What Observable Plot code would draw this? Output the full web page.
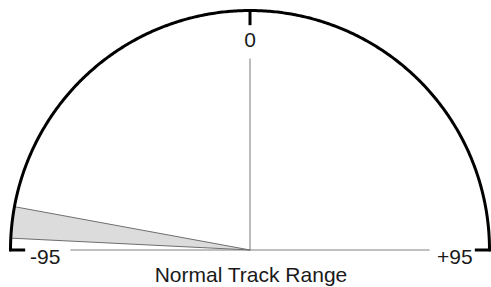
<!DOCTYPE html>
<html>
<head>
<meta charset="utf-8">
<script src="https://cdn.jsdelivr.net/npm/d3@7"></script>
<script src="https://cdn.jsdelivr.net/npm/@observablehq/plot@0.6"></script>
<style>
  html, body { margin: 0; padding: 0; background: #fff; }
</style>
</head>
<body>
<div id="chart"></div>
<script>
// ---- data ----
const gaugeMin = -95;
const gaugeMax = 95;
const tickValues = [-95, 0, 95];
const tickLabels = ["-95", "0", "+95"];
const bandStart = -92;
const bandEnd = -84;
const caption = "Normal Track Range";

// ---- geometry helpers (value -> angle on the half circle) ----
const angle = v => ((v - gaugeMin) / (gaugeMax - gaugeMin)) * Math.PI - Math.PI / 2;
const px = (v, r) => Math.sin(angle(v)) * r;
const py = (v, r) => Math.cos(angle(v)) * r;

const arcVals = d3.range(gaugeMin, gaugeMax + 0.25, 0.5);
const bandVals = d3.range(bandStart, bandEnd + 0.1, 0.25);
const bandPts = [{x: 0, y: 0}, ...bandVals.map(v => ({x: px(v, 1), y: py(v, 1)})), {x: 0, y: 0}];
const ticks = tickValues.map((v, i) => ({v, label: tickLabels[i]}));

const cx = 249.5, cy = 249.5, R = 239.5;
const font = "'Liberation Sans', Arial, sans-serif";

const chart = Plot.plot({
  width: 491,
  height: 287,
  margin: 0,
  style: {fontFamily: font, fontSize: "21px", color: "#1a1a1a", background: "#fff"},
  x: {domain: [-1, 1], range: [cx - R, cx + R], axis: null},
  y: {domain: [0, 1], range: [cy, cy - R], axis: null},
  marks: [
    // gray reference lines from centre
    Plot.link(ticks, {
      x1: () => 0, y1: () => 0,
      x2: d => px(d.v, d.v === 0 ? 0.8 : 0.75),
      y2: d => py(d.v, d.v === 0 ? 0.8 : 0.75),
      stroke: "#ababab", strokeWidth: 1.6
    }),
    // shaded band wedge
    Plot.line(bandPts, {x: "x", y: "y", fill: "#dcdcdc", stroke: "#6e6e6e", strokeWidth: 1, curve: "linear"}),
    // outer arc
    Plot.line(arcVals, {x: v => px(v, 1), y: v => py(v, 1), stroke: "#000", strokeWidth: 3}),
    // tick marks
    Plot.link(ticks, {
      x1: d => px(d.v, 1), y1: d => py(d.v, 1),
      x2: d => px(d.v, 0.945), y2: d => py(d.v, 0.945),
      stroke: "#000", strokeWidth: 3, strokeLinecap: "square"
    }),
    // end labels
    Plot.text(ticks.filter(d => d.v !== 0), {
      x: d => px(d.v, 0.855), y: d => py(d.v, 0.855), text: "label",
      dy: 7, lineAnchor: "middle", fontSize: 21, fill: "#1a1a1a"
    }),
    // top label
    Plot.text(ticks.filter(d => d.v === 0), {
      x: d => px(d.v, 0.877), y: d => py(d.v, 0.877), text: "label",
      lineAnchor: "middle", fontSize: 21, fill: "#1a1a1a"
    }),
    // caption
    Plot.text([caption], {x: () => 0.004, y: () => -0.1065, text: d => d, lineAnchor: "middle", fontSize: 21, fill: "#1a1a1a"})
  ]
});
document.getElementById("chart").appendChild(chart);
</script>
</body>
</html>
